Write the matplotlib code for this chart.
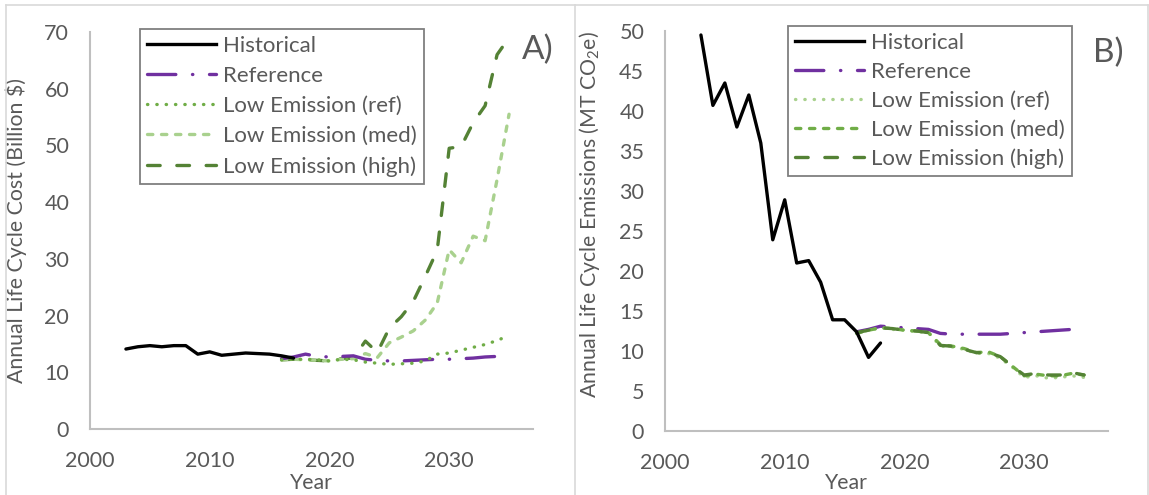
import matplotlib
matplotlib.use('Agg')
import matplotlib.pyplot as plt
from matplotlib.lines import Line2D

plt.rcParams['font.family'] = ['Lato', 'DejaVu Sans']
plt.rcParams['mathtext.fontset'] = 'custom'
plt.rcParams['mathtext.rm'] = 'Lato'

# cost panel
hist_years = list(range(2003, 2018))
hist_cost = [14.1, 14.5, 14.7, 14.5, 14.7, 14.7, 13.2, 13.6, 13.0, 13.2, 13.4, 13.3, 13.2, 12.9, 12.5]

scen_years = list(range(2016, 2036))
ref_cost = [12.4, 12.7, 13.2, 12.8, 12.7, 12.8, 12.9, 12.3, 12.1, 12.0,
            12.0, 12.1, 12.2, 12.3, 12.3, 12.4, 12.5, 12.7, 12.8, 12.7]
le_ref_cost = [12.2, 12.3, 12.3, 12.2, 12.0, 12.3, 12.2, 11.8, 11.6, 11.4,
               11.5, 11.6, 12.0, 13.2, 13.4, 13.9, 14.4, 14.9, 15.6, 16.5]
le_med_cost = [12.2, 12.3, 12.2, 12.1, 12.0, 12.3, 12.4, 13.3, 12.6, 15.2,
               16.2, 17.3, 19.2, 22.2, 31.6, 29.3, 34.0, 33.2, 44.0, 55.5]
le_high_cost = [12.2, 12.3, 12.2, 12.1, 12.0, 12.4, 12.5, 15.5, 13.5, 17.8,
                19.8, 22.5, 26.9, 31.5, 49.5, 49.8, 54.0, 57.0, 66.0, 69.0]

# emissions panel
hist_em_years = list(range(2003, 2019))
hist_em = [49.5, 40.7, 43.5, 38.0, 42.0, 36.0, 23.9, 28.9, 21.0, 21.3, 18.6, 13.9, 13.9, 12.4, 9.2, 11.0]
ref_em = [12.4, 12.7, 13.1, 13.0, 12.9, 12.8, 12.7, 12.2, 12.1, 12.1,
          12.1, 12.1, 12.1, 12.2, 12.3, 12.4, 12.5, 12.6, 12.7, 12.7]
le_ref_em = [12.3, 12.6, 12.9, 12.7, 12.6, 12.4, 12.3, 10.6, 10.5, 10.2,
             9.7, 9.7, 9.1, 8.0, 6.7, 6.9, 6.6, 6.7, 6.9, 6.7]
le_med_em = [12.2, 12.6, 12.9, 12.8, 12.6, 12.5, 12.3, 10.8, 10.6, 10.3,
             9.8, 9.9, 9.3, 8.1, 6.9, 7.1, 6.9, 6.9, 7.2, 7.0]
le_high_em = [12.3, 12.6, 12.9, 12.8, 12.6, 12.5, 12.3, 10.7, 10.6, 10.2,
              9.8, 9.8, 9.3, 8.1, 7.0, 7.2, 7.0, 7.0, 7.3, 7.0]

labels = ['Historical', 'Reference', 'Low Emission (ref)', 'Low Emission (med)', 'Low Emission (high)']

PURPLE = '#7030A0'
DARK_G = '#548235'
MID_G = '#70AD47'
LIGHT_G = '#A9D18E'
GREY_TXT = '#595959'
GREY_AX = '#BFBFBF'

LW = 2.4
DASH_DOT = (8.5, 5.0, 0.1, 5.0)
LONG_DASH = (3.8, 5.0)
SHORT_DASH = (1.6, 2.6)
DOTS = (0.1, 2.7)


def style_axes(ax, ymax, ystep):
    ax.set_xlim(2000, 2037)
    ax.set_ylim(0, ymax)
    ax.set_xticks([2000, 2010, 2020, 2030])
    ax.set_yticks(range(0, ymax + 1, ystep))
    for side in ['top', 'right']:
        ax.spines[side].set_visible(False)
    for side in ['left', 'bottom']:
        ax.spines[side].set_color(GREY_AX)
        ax.spines[side].set_linewidth(1.5)
    ax.tick_params(length=0, labelsize=15.5, labelcolor=GREY_TXT)
    ax.tick_params(axis='x', pad=16)
    ax.tick_params(axis='y', pad=15)


def draw(ax, x, y, color, dashes, lw=LW, zorder=2):
    ax.plot(x, y, color=color, lw=lw, dashes=dashes, dash_capstyle='round',
            solid_capstyle='round', zorder=zorder)


fig = plt.figure(figsize=(11.49, 4.95), dpi=100)

# chart frames
for xs, ys in [([6, 1148], [490, 490]), ([6, 6], [0, 490]), ([575, 575], [0, 490]), ([1148, 1148], [0, 490])]:
    fig.add_artist(Line2D([v / 1149 for v in xs], [v / 495 for v in ys], color='#D9D9D9', lw=1.2))

ax1 = fig.add_axes([90 / 1149, 1 - 429 / 495, 443 / 1149, 397 / 495])
ax2 = fig.add_axes([665 / 1149, 1 - 431 / 495, 443 / 1149, 400 / 495])

# --- cost ---
ax1.plot(hist_years, hist_cost, color='black', lw=LW, solid_capstyle='round', zorder=3)
draw(ax1, scen_years, le_high_cost, DARK_G, LONG_DASH)
draw(ax1, scen_years, le_med_cost, LIGHT_G, SHORT_DASH)
draw(ax1, scen_years, ref_cost, PURPLE, DASH_DOT)
draw(ax1, scen_years, le_ref_cost, MID_G, DOTS)
style_axes(ax1, 70, 10)
ax1.set_ylabel('Annual Life Cycle Cost (Billion $)', fontsize=15.3, color=GREY_TXT)
ax1.yaxis.set_label_coords(-0.142, 0.5)
ax1.text(0.499, -0.135, 'Year', transform=ax1.transAxes, ha='center', va='center',
         fontsize=15.3, color=GREY_TXT)
ax1.text(1.01, 0.955, 'A)', transform=ax1.transAxes, ha='center', va='center',
         fontsize=24, color=GREY_TXT)

h1 = [Line2D([], [], color='black', lw=LW),
      Line2D([], [], color=PURPLE, lw=LW, dashes=DASH_DOT, dash_capstyle='round'),
      Line2D([], [], color=MID_G, lw=LW, dashes=DOTS, dash_capstyle='round'),
      Line2D([], [], color=LIGHT_G, lw=LW, dashes=SHORT_DASH, dash_capstyle='round'),
      Line2D([], [], color=DARK_G, lw=LW, dashes=LONG_DASH, dash_capstyle='round')]

# --- emissions ---
ax2.plot(hist_em_years, hist_em, color='black', lw=LW, solid_capstyle='round', zorder=3)
draw(ax2, scen_years, ref_em, PURPLE, DASH_DOT)
draw(ax2, scen_years, le_ref_em, LIGHT_G, DOTS)
draw(ax2, scen_years, le_med_em, MID_G, SHORT_DASH)
draw(ax2, scen_years, le_high_em, DARK_G, LONG_DASH)
style_axes(ax2, 50, 5)
ax2.set_ylabel(r'Annual Life Cycle Emissions (MT CO$_\mathregular{2}$e)', fontsize=15.3, color=GREY_TXT)
ax2.yaxis.set_label_coords(-0.142, 0.54)
ax2.text(0.409, -0.13, 'Year', transform=ax2.transAxes, ha='center', va='center',
         fontsize=15.3, color=GREY_TXT)
ax2.text(1.0, 0.945, 'B)', transform=ax2.transAxes, ha='center', va='center',
         fontsize=24, color=GREY_TXT)

h2 = [Line2D([], [], color='black', lw=LW),
      Line2D([], [], color=PURPLE, lw=LW, dashes=DASH_DOT, dash_capstyle='round'),
      Line2D([], [], color=LIGHT_G, lw=LW, dashes=DOTS, dash_capstyle='round'),
      Line2D([], [], color=MID_G, lw=LW, dashes=SHORT_DASH, dash_capstyle='round'),
      Line2D([], [], color=DARK_G, lw=LW, dashes=LONG_DASH, dash_capstyle='round')]

for ax, handles, anchor, spacing in [(ax1, h1, (0.113, 1.0076), 0.45), (ax2, h2, (0.278, 1.0125), 0.4)]:
    leg = ax.legend(handles, labels, loc='upper left', bbox_to_anchor=anchor, borderaxespad=0,
                    fontsize=16, handlelength=3.1, handletextpad=0.3, labelspacing=spacing,
                    borderpad=0.32, fancybox=False, framealpha=1)
    leg.get_frame().set_edgecolor('#7F7F7F')
    leg.get_frame().set_linewidth(1.3)
    for t in leg.get_texts():
        t.set_color(GREY_TXT)

fig.savefig('out.png', dpi=100)
